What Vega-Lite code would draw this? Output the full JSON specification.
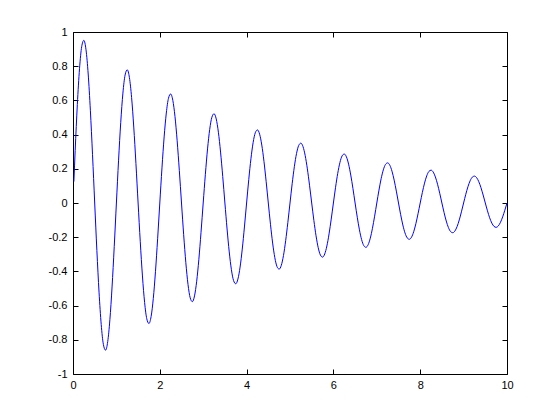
{
  "$schema": "https://vega.github.io/schema/vega-lite/v6.json",
  "width": 434,
  "height": 342,
  "autosize": {"type": "none"},
  "padding": {"left": 73, "top": 32, "right": 53, "bottom": 46},
  "background": "white",
  "config": {
    "view": {"stroke": null},
    "axis": {
      "grid": false,
      "domainColor": "black",
      "domainWidth": 1,
      "tickColor": "black",
      "tickSize": -5,
      "labelColor": "black",
      "labelFont": "Liberation Sans",
      "labelFontSize": 11,
      "labelFlush": false,
      "labelOverlap": false,
      "titleFontSize": 0
    }
  },
  "data": {"values": [
    {"t":0.02,"y":0.125},
    {"t":0.05,"y":0.3059},{"t":0.1,"y":0.5762},{"t":0.15,"y":0.7851},{"t":0.2,"y":0.9138},{"t":0.25,"y":0.9512},{"t":0.3,"y":0.8957},{"t":0.35,"y":0.7543},{"t":0.4,"y":0.5426},{"t":0.45,"y":0.2824},{"t":0.5,"y":0},
    {"t":0.55,"y":-0.2768},{"t":0.6,"y":-0.5213},{"t":0.65,"y":-0.7104},{"t":0.7,"y":-0.8269},{"t":0.75,"y":-0.8607},{"t":0.8,"y":-0.8105},{"t":0.85,"y":-0.6825},{"t":0.9,"y":-0.491},{"t":0.95,"y":-0.2555},{"t":1.0,"y":0},
    {"t":1.05,"y":0.2504},{"t":1.1,"y":0.4717},{"t":1.15,"y":0.6428},{"t":1.2,"y":0.7482},{"t":1.25,"y":0.7788},{"t":1.3,"y":0.7333},{"t":1.35,"y":0.6176},{"t":1.4,"y":0.4442},{"t":1.45,"y":0.2312},{"t":1.5,"y":0},
    {"t":1.55,"y":-0.2266},{"t":1.6,"y":-0.4268},{"t":1.65,"y":-0.5816},{"t":1.7,"y":-0.677},{"t":1.75,"y":-0.7047},{"t":1.8,"y":-0.6636},{"t":1.85,"y":-0.5588},{"t":1.9,"y":-0.402},{"t":1.95,"y":-0.2092},{"t":2.0,"y":0},
    {"t":2.05,"y":0.2051},{"t":2.1,"y":0.3862},{"t":2.15,"y":0.5263},{"t":2.2,"y":0.6125},{"t":2.25,"y":0.6376},{"t":2.3,"y":0.6004},{"t":2.35,"y":0.5056},{"t":2.4,"y":0.3637},{"t":2.45,"y":0.1893},{"t":2.5,"y":0},
    {"t":2.55,"y":-0.1855},{"t":2.6,"y":-0.3494},{"t":2.65,"y":-0.4762},{"t":2.7,"y":-0.5543},{"t":2.75,"y":-0.5769},{"t":2.8,"y":-0.5433},{"t":2.85,"y":-0.4575},{"t":2.9,"y":-0.3291},{"t":2.95,"y":-0.1713},{"t":3.0,"y":0},
    {"t":3.05,"y":0.1679},{"t":3.1,"y":0.3162},{"t":3.15,"y":0.4309},{"t":3.2,"y":0.5015},{"t":3.25,"y":0.522},{"t":3.3,"y":0.4916},{"t":3.35,"y":0.414},{"t":3.4,"y":0.2978},{"t":3.45,"y":0.155},{"t":3.5,"y":0},
    {"t":3.55,"y":-0.1519},{"t":3.6,"y":-0.2861},{"t":3.65,"y":-0.3899},{"t":3.7,"y":-0.4538},{"t":3.75,"y":-0.4724},{"t":3.8,"y":-0.4448},{"t":3.85,"y":-0.3746},{"t":3.9,"y":-0.2695},{"t":3.95,"y":-0.1402},{"t":4.0,"y":0},
    {"t":4.05,"y":0.1375},{"t":4.1,"y":0.2589},{"t":4.15,"y":0.3528},{"t":4.2,"y":0.4106},{"t":4.25,"y":0.4274},{"t":4.3,"y":0.4025},{"t":4.35,"y":0.3389},{"t":4.4,"y":0.2438},{"t":4.45,"y":0.1269},{"t":4.5,"y":0},
    {"t":4.55,"y":-0.1244},{"t":4.6,"y":-0.2342},{"t":4.65,"y":-0.3192},{"t":4.7,"y":-0.3716},{"t":4.75,"y":-0.3867},{"t":4.8,"y":-0.3642},{"t":4.85,"y":-0.3067},{"t":4.9,"y":-0.2206},{"t":4.95,"y":-0.1148},{"t":5.0,"y":0},
    {"t":5.05,"y":0.1125},{"t":5.1,"y":0.212},{"t":5.15,"y":0.2888},{"t":5.2,"y":0.3362},{"t":5.25,"y":0.3499},{"t":5.3,"y":0.3295},{"t":5.35,"y":0.2775},{"t":5.4,"y":0.1996},{"t":5.45,"y":0.1039},{"t":5.5,"y":0},
    {"t":5.55,"y":-0.1018},{"t":5.6,"y":-0.1918},{"t":5.65,"y":-0.2613},{"t":5.7,"y":-0.3042},{"t":5.75,"y":-0.3166},{"t":5.8,"y":-0.2982},{"t":5.85,"y":-0.2511},{"t":5.9,"y":-0.1806},{"t":5.95,"y":-0.094},{"t":6.0,"y":0},
    {"t":6.05,"y":0.0921},{"t":6.1,"y":0.1735},{"t":6.15,"y":0.2365},{"t":6.2,"y":0.2752},{"t":6.25,"y":0.2865},{"t":6.3,"y":0.2698},{"t":6.35,"y":0.2272},{"t":6.4,"y":0.1634},{"t":6.45,"y":0.0851},{"t":6.5,"y":0},
    {"t":6.55,"y":-0.0834},{"t":6.6,"y":-0.157},{"t":6.65,"y":-0.214},{"t":6.7,"y":-0.2491},{"t":6.75,"y":-0.2592},{"t":6.8,"y":-0.2441},{"t":6.85,"y":-0.2056},{"t":6.9,"y":-0.1479},{"t":6.95,"y":-0.077},{"t":7.0,"y":0},
    {"t":7.05,"y":0.0754},{"t":7.1,"y":0.1421},{"t":7.15,"y":0.1936},{"t":7.2,"y":0.2253},{"t":7.25,"y":0.2346},{"t":7.3,"y":0.2209},{"t":7.35,"y":0.186},{"t":7.4,"y":0.1338},{"t":7.45,"y":0.0696},{"t":7.5,"y":0},
    {"t":7.55,"y":-0.0683},{"t":7.6,"y":-0.1286},{"t":7.65,"y":-0.1752},{"t":7.7,"y":-0.2039},{"t":7.75,"y":-0.2122},{"t":7.8,"y":-0.1999},{"t":7.85,"y":-0.1683},{"t":7.9,"y":-0.1211},{"t":7.95,"y":-0.063},{"t":8.0,"y":0},
    {"t":8.05,"y":0.0618},{"t":8.1,"y":0.1163},{"t":8.15,"y":0.1585},{"t":8.2,"y":0.1845},{"t":8.25,"y":0.192},{"t":8.3,"y":0.1808},{"t":8.35,"y":0.1523},{"t":8.4,"y":0.1096},{"t":8.45,"y":0.057},{"t":8.5,"y":0},
    {"t":8.55,"y":-0.0559},{"t":8.6,"y":-0.1053},{"t":8.65,"y":-0.1434},{"t":8.7,"y":-0.167},{"t":8.75,"y":-0.1738},{"t":8.8,"y":-0.1636},{"t":8.85,"y":-0.1378},{"t":8.9,"y":-0.0991},{"t":8.95,"y":-0.0516},{"t":9.0,"y":0},
    {"t":9.05,"y":0.0506},{"t":9.1,"y":0.0952},{"t":9.15,"y":0.1298},{"t":9.2,"y":0.1511},{"t":9.25,"y":0.1572},{"t":9.3,"y":0.1481},{"t":9.35,"y":0.1247},{"t":9.4,"y":0.0897},{"t":9.45,"y":0.0467},{"t":9.5,"y":0},
    {"t":9.55,"y":-0.0458},{"t":9.6,"y":-0.0862},{"t":9.65,"y":-0.1174},{"t":9.7,"y":-0.1367},{"t":9.75,"y":-0.1423},{"t":9.8,"y":-0.134},{"t":9.85,"y":-0.1128},{"t":9.9,"y":-0.0812},{"t":9.95,"y":-0.0422},{"t":10.0,"y":0}
  ]},
  "layer": [
    {
      "mark": {"type": "line", "color": "#0000ff", "strokeWidth": 1, "interpolate": "monotone"},
      "encoding": {
        "x": {"field": "t", "type": "quantitative", "scale": {"domain": [0, 10], "nice": false, "zero": false},
              "axis": {"orient": "bottom", "title": null, "values": [0, 2, 4, 6, 8, 10], "labelPadding": 10, "labelExpr": "'' + datum.value"}},
        "y": {"field": "y", "type": "quantitative", "scale": {"domain": [-1, 1], "nice": false},
              "axis": {"orient": "left", "title": null, "values": [-1, -0.8, -0.6, -0.4, -0.2, 0, 0.2, 0.4, 0.6, 0.8, 1], "labelPadding": 11, "labelExpr": "'' + datum.value"}}
      }
    },
    {
      "mark": {"type": "line", "opacity": 0},
      "encoding": {
        "x": {"field": "t", "type": "quantitative", "axis": {"orient": "top", "title": null, "values": [0, 2, 4, 6, 8, 10], "labels": false}},
        "y": {"field": "y", "type": "quantitative", "axis": {"orient": "right", "title": null, "values": [-1, -0.8, -0.6, -0.4, -0.2, 0, 0.2, 0.4, 0.6, 0.8, 1], "labels": false}}
      }
    }
  ],
  "resolve": {"axis": {"x": "independent", "y": "independent"}}
}
